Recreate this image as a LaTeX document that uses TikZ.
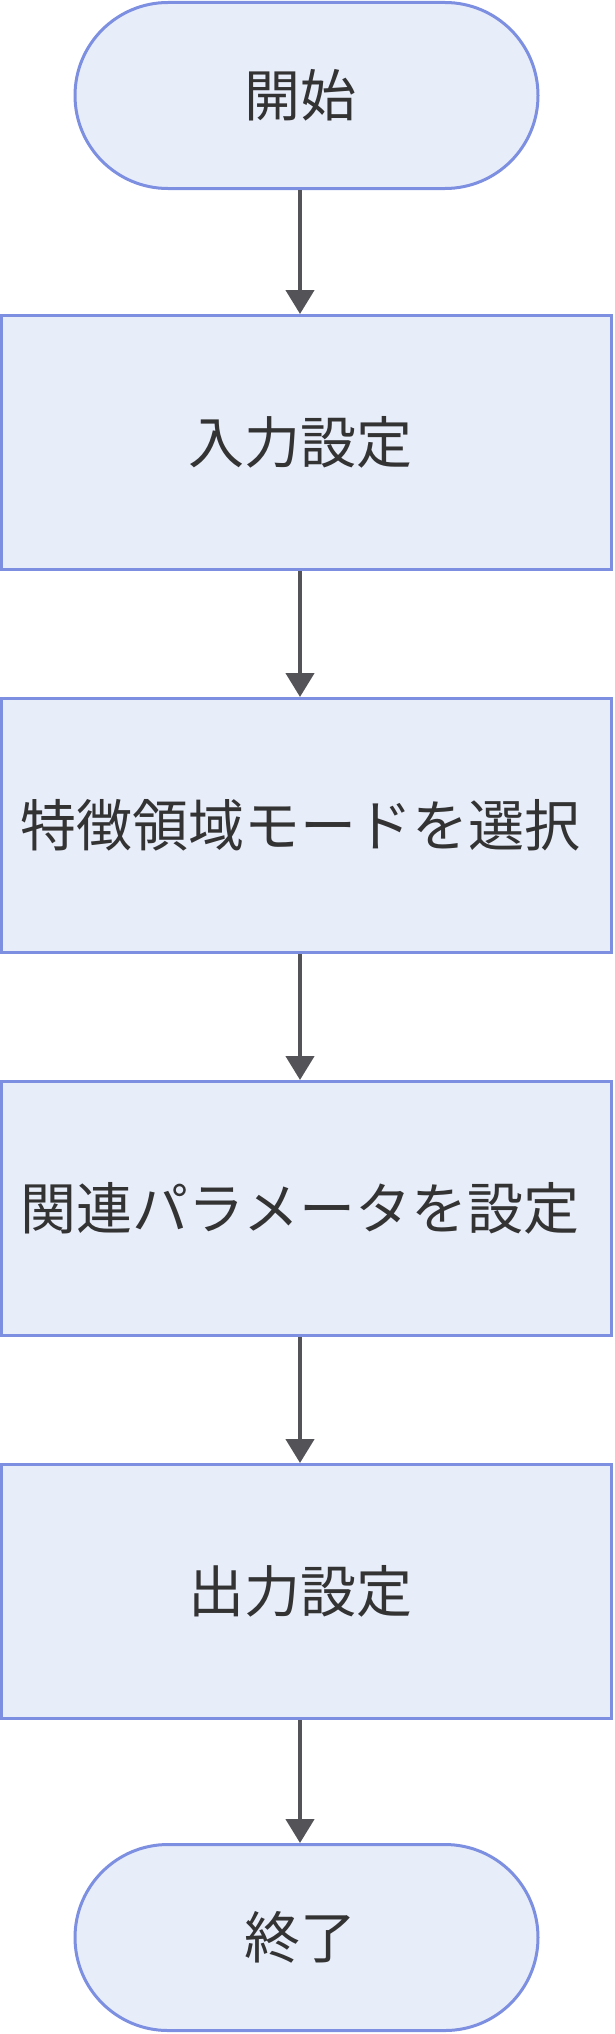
\documentclass[tikz,border=0pt]{standalone}
\usepackage{fontspec}
\setmainfont{Noto Sans CJK JP}
\usetikzlibrary{arrows.meta,shapes.misc}

\definecolor{fondbleu}{RGB}{232,237,250}
\definecolor{bordbleu}{RGB}{125,143,224}
\definecolor{grisfleche}{RGB}{83,83,88}
\definecolor{gristexte}{RGB}{51,51,51}

\begin{document}
\begin{tikzpicture}[x=1pt,y=1pt]
			\tikzstyle{fleche}=[-{Triangle[width=28pt,length=24pt]},line width=4.5pt,draw=grisfleche]
			\tikzstyle{boite}=[draw=bordbleu,fill=fondbleu,line width=3pt,text=gristexte,font=\fontsize{56}{60}\selectfont]
			\tikzstyle{terminal}=[boite,rounded rectangle,minimum width=463pt,minimum height=186pt,inner sep=0pt]
			\tikzstyle{etape}=[boite,rectangle,minimum width=610pt,minimum height=254pt,inner sep=0pt]
			
			\useasboundingbox (0,0) rectangle (614,-2034);
			
			\def\Colonne{306.5}
			\def\Decalage{\hspace*{13pt}}
			\def\PasEtape{383}
			
			\def\NiveauA{-95.5}
			\def\NiveauB{-442.5}
			\def\NiveauF{-1937.5}
			
			\node[terminal] (Debut) at ({\Colonne},{\NiveauA}) {開始\Decalage};
			\node[etape] (Entree) at ({\Colonne},{\NiveauB}) {入力設定\Decalage};
			\node[etape] (Mode) at ({\Colonne},{\NiveauB-(1)*\PasEtape}) {特徴領域モードを選択\Decalage};
			\node[etape] (Param) at ({\Colonne},{\NiveauB-(2)*\PasEtape}) {関連パラメータを設定\Decalage};
			\node[etape] (Sortie) at ({\Colonne},{\NiveauB-(3)*\PasEtape}) {出力設定\Decalage};
			\node[terminal] (Fin) at ({\Colonne},{\NiveauF}) {終了\Decalage};
			
			\draw[fleche] ([xshift=-6.5pt]Debut.south)--([xshift=-6.5pt]Entree.north);
			\draw[fleche] ([xshift=-6.5pt]Entree.south)--([xshift=-6.5pt]Mode.north);
			\draw[fleche] ([xshift=-6.5pt]Mode.south)--([xshift=-6.5pt]Param.north);
			\draw[fleche] ([xshift=-6.5pt]Param.south)--([xshift=-6.5pt]Sortie.north);
			\draw[fleche] ([xshift=-6.5pt]Sortie.south)--([xshift=-6.5pt]Fin.north);
		\end{tikzpicture}
\end{document}
